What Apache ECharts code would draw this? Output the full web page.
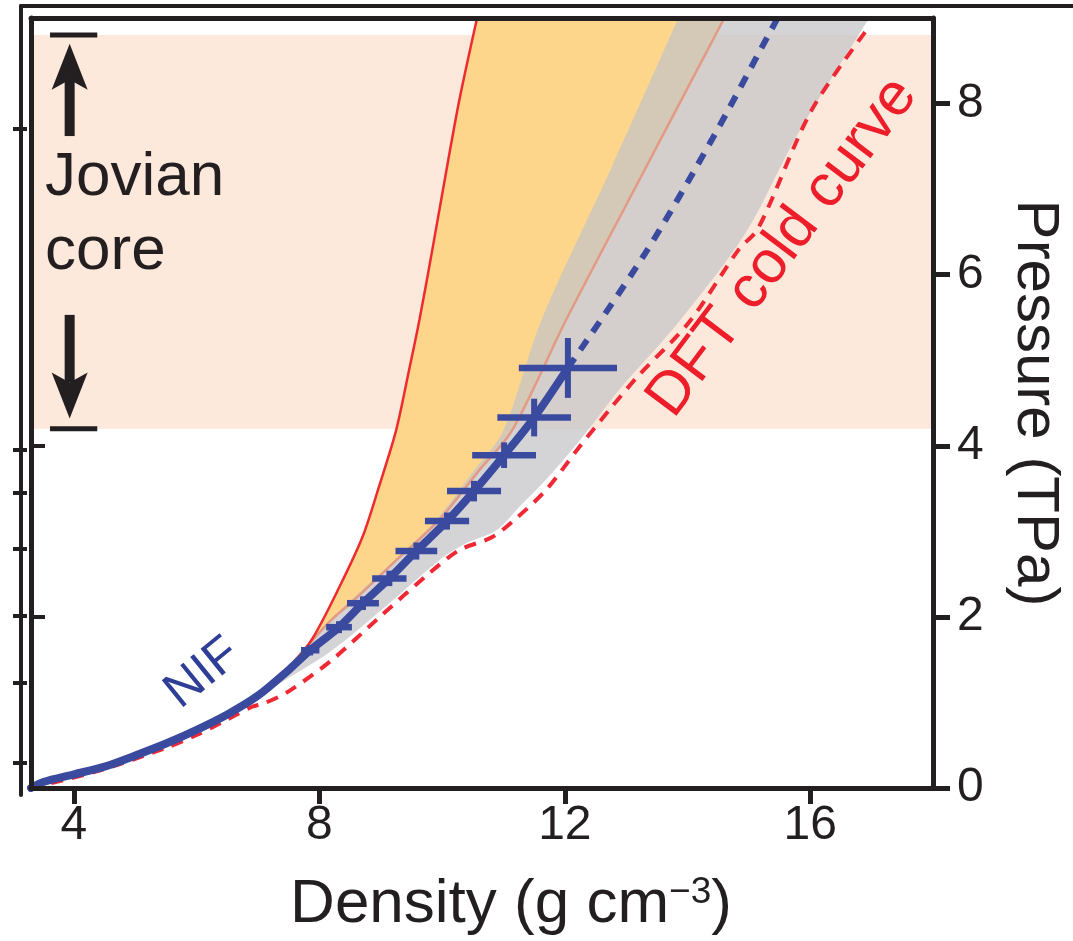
<!DOCTYPE html>
<html><head><meta charset="utf-8">
<script src="https://cdn.jsdelivr.net/npm/echarts@6/dist/echarts.min.js"></script>
<style>html,body{margin:0;padding:0;background:#fff}#c{width:1073px;height:941px}</style>
</head><body><div id="c"></div>
<script>
// ---- axis extents & ticks ----
const xMin = 3.3, xMax = 18;
const yMin = 0, yMax = 9;
const xTicks = [4, 8, 12, 16];
const yTicks = [0, 2, 4, 6, 8];
const innerLeftTicks = [2, 4];
const neighbourTicks = [0.30, 1.23, 2.02, 2.80, 3.45, 3.96, 7.71];

// ---- Jovian core pressure range (TPa) ----
const jovianCore = [4.2, 8.8];

// ---- NIF measured curve (density g/cm3, pressure TPa) ----
const nifCurve = [[3.3,0],[3.5,0.07],[4.0,0.16],[4.5,0.25],[5.0,0.38],[5.5,0.52],[6.0,0.68],[6.5,0.86],[7.0,1.08],[7.5,1.38],[7.85,1.61],[8.32,1.88],[8.71,2.16],[9.14,2.45],[9.58,2.77],[10.08,3.12],[10.52,3.47],[11.01,3.89],[11.5,4.33],[12.05,4.91]];
const nifExtrapolation = [[12.05,4.91],[13.31,6.25],[14.39,7.57],[15.4,8.91],[15.47,9.0]];

// ---- NIF data points with error bars ----
const nifDensity  = [12.05, 11.50, 11.01, 10.52, 10.08, 9.58, 9.14, 8.71, 8.32, 7.85];
const nifPressure = [4.91, 4.33, 3.89, 3.47, 3.12, 2.77, 2.45, 2.16, 1.88, 1.61];
const nifDensityErr  = [0.80, 0.60, 0.52, 0.44, 0.36, 0.34, 0.28, 0.26, 0.21, 0.15];
const nifPressureErr = [0.35, 0.22, 0.15, 0.12, 0.10, 0.10, 0.09, 0.08, 0.07, 0.06];

// ---- model curves ----
const redSolidCurve = [[3.3,0],[4.0,0.15],[5.0,0.37],[6.0,0.67],[7.0,1.07],[7.56,1.45],[7.89,1.75],[8.32,2.34],[8.70,2.93],[8.97,3.52],[9.25,4.18],[9.46,4.88],[9.63,5.47],[9.84,6.29],[10.1,7.34],[10.28,8.04],[10.57,9.0]];
const salmonCurve = [[7.56,1.46],[8.16,1.94],[8.57,2.20],[9.25,2.66],[9.95,3.13],[10.60,3.71],[11.14,4.18],[12.02,5.47],[13.04,6.87],[14.60,9.0]];
const dftColdCurve = [[3.3,0],[4.4,0.2],[5.5,0.47],[6.0,0.62],[6.5,0.8],[6.9,0.95],[7.1,0.99],[7.5,1.13],[8.21,1.5],[8.97,1.99],[9.79,2.51],[10.28,2.78],[10.81,2.93],[11.14,3.11],[11.69,3.48],[12.23,3.98],[12.76,4.45],[13.2,4.82],[14.02,5.44],[14.83,6.29],[15.15,6.54],[16.02,7.92],[16.94,8.88]];
const grayUpperEdge = [[6.37,0.77],[7.0,1.08],[7.56,1.46],[8.14,1.94],[9.22,2.66],[9.90,3.13],[10.52,3.71],[11.0,4.18],[11.62,5.47],[12.76,7.25],[13.85,9.0]];
const grayLowerEdge = [[6.37,0.77],[7.35,1.22],[8.21,1.61],[9.14,2.16],[9.95,2.66],[10.39,2.86],[10.88,3.01],[11.25,3.28],[11.79,3.68],[12.34,4.15],[12.88,4.65],[13.85,5.44],[14.94,6.48],[15.80,7.65],[16.88,8.91],[16.97,9.0]];

// ---- annotation arrows (x, from, to) ----
const jovianArrows = [[3.93, 7.62, 8.70], [3.93, 5.53, 4.32]];
const jovianBarSpan = [3.61, 4.38];

const annotations = [
  {text: 'Jovian', at: [3.53, 7.13], color: '#231f20', size: 62, rot: 0, align: 'left'},
  {text: 'core', at: [3.53, 6.27], color: '#231f20', size: 62, rot: 0, align: 'left'},
  {text: 'NIF', at: [6.1, 1.34], color: '#2e3d96', size: 50, rot: 39, align: 'center'},
  {text: 'DFT cold curve', at: [15.55, 6.32], color: '#ee1d2a', size: 60, rot: 53, align: 'center'}
];

const FONT = '"Liberation Sans", Arial, Helvetica, sans-serif';
const INK = '#231f20';
const BLUE = '#3a4a9f';
const SMOOTH = 0.3;

// Bezier path through pixel points, same control-point rule as ECharts' smoothed line
function smoothSegment(pts, smooth, move) {
  let d = move ? 'M' + pts[0][0] + ' ' + pts[0][1] : 'L' + pts[0][0] + ' ' + pts[0][1];
  const n = pts.length;
  const cpOut = [], cpIn = [];
  for (let i = 0; i < n; i++) {
    const p = pts[i];
    if (i === 0 || i === n - 1) { cpOut[i] = p; cpIn[i] = p; continue; }
    const a = pts[i - 1], b = pts[i + 1];
    const vx = b[0] - a[0], vy = b[1] - a[1];
    const l0 = Math.hypot(p[0] - a[0], p[1] - a[1]), l1 = Math.hypot(b[0] - p[0], b[1] - p[1]);
    const r = l1 / (l0 + l1 || 1);
    cpOut[i] = [p[0] + vx * smooth * r, p[1] + vy * smooth * r];
    cpIn[i] = [p[0] - vx * smooth * (1 - r), p[1] - vy * smooth * (1 - r)];
  }
  for (let i = 1; i < n; i++) {
    d += 'C' + cpOut[i - 1][0] + ' ' + cpOut[i - 1][1] + ' ' + cpIn[i][0] + ' ' + cpIn[i][1] + ' ' + pts[i][0] + ' ' + pts[i][1];
  }
  return d;
}

function bandSeries(edgeA, edgeB, fill, z) {
  return {
    type: 'custom', coordinateSystem: 'cartesian2d', xAxisIndex: 0, yAxisIndex: 0,
    z: z, silent: true, data: [[5, 1]],
    renderItem: function (params, api) {
      const a = edgeA.map(p => api.coord(p));
      const b = edgeB.slice().reverse().map(p => api.coord(p));
      const d = smoothSegment(a, SMOOTH, true) + smoothSegment(b, SMOOTH, false) + 'Z';
      return {type: 'path', shape: {pathData: d}, style: {fill: fill}};
    }
  };
}

const orangeLeftEdge = redSolidCurve.filter(p => p[1] >= salmonCurve[0][1] - 0.02);

const chart = echarts.init(document.getElementById('c'), null, {renderer: 'canvas'});

const option = {
  backgroundColor: '#ffffff',
  animation: false,
  textStyle: {fontFamily: FONT},
  grid: [
    {left: 31, right: 138, top: 18, bottom: 153, containLabel: false},
    {left: 21, right: 0, top: 6, bottom: 146, containLabel: false}
  ],
  xAxis: [
    {
      type: 'value', gridIndex: 0, min: xMin, max: xMax, position: 'bottom', z: 6,
      axisLine: {show: true, onZero: false, lineStyle: {color: INK, width: 5}},
      axisTick: {show: true, customValues: xTicks, length: 16, inside: false, lineStyle: {color: INK, width: 5}},
      axisLabel: {customValues: xTicks, fontSize: 48, color: INK, margin: 14, fontFamily: FONT},
      splitLine: {show: false},
      name: 'Density (g cm{sup|\u22123})', nameLocation: 'middle', nameGap: 86,
      nameTextStyle: {fontSize: 62, color: INK, fontFamily: FONT, padding: [0, 0, 0, 58],
        rich: {sup: {fontSize: 37, verticalAlign: 'top', fontFamily: FONT, color: INK, padding: [0, 0, 18, 0]}}}
    },
    {
      type: 'value', gridIndex: 0, min: xMin, max: xMax, position: 'top', z: 6,
      axisLine: {show: true, onZero: false, lineStyle: {color: INK, width: 5}},
      axisTick: {show: false}, axisLabel: {show: false}, splitLine: {show: false}
    },
    {
      type: 'value', gridIndex: 1, min: 0, max: 1, position: 'top', z: 6,
      axisLine: {show: true, onZero: false, lineStyle: {color: INK, width: 4}},
      axisTick: {show: false}, axisLabel: {show: false}, splitLine: {show: false}
    }
  ],
  yAxis: [
    {
      type: 'value', gridIndex: 0, min: yMin, max: yMax, position: 'right', z: 6,
      axisLine: {show: true, onZero: false, lineStyle: {color: INK, width: 5}},
      axisTick: {show: true, customValues: yTicks, length: 17, inside: false, lineStyle: {color: INK, width: 5}},
      axisLabel: {customValues: yTicks, fontSize: 48, color: INK, margin: 24, fontFamily: FONT},
      splitLine: {show: false},
      name: 'Pressure (TPa)', nameLocation: 'middle', nameRotate: -90, nameGap: 72,
      nameTextStyle: {fontSize: 60, color: INK, fontFamily: FONT}
    },
    {
      type: 'value', gridIndex: 0, min: yMin, max: yMax, position: 'left', z: 6,
      axisLine: {show: true, onZero: false, lineStyle: {color: INK, width: 5}},
      axisTick: {show: true, customValues: innerLeftTicks, length: 14, inside: true, lineStyle: {color: INK, width: 4}},
      axisLabel: {show: false}, splitLine: {show: false}
    },
    {
      type: 'value', gridIndex: 1, min: -0.08, max: 9.14, position: 'left', z: 6,
      axisLine: {show: true, onZero: false, lineStyle: {color: INK, width: 4}},
      axisTick: {show: true, customValues: neighbourTicks, length: 8, inside: false, lineStyle: {color: INK, width: 4}},
      axisLabel: {show: false}, splitLine: {show: false}
    },
    {
      type: 'value', gridIndex: 1, min: -0.08, max: 9.14, position: 'left', z: 6,
      axisLine: {show: false},
      axisTick: {show: true, customValues: neighbourTicks, length: 6, inside: true, lineStyle: {color: INK, width: 4}},
      axisLabel: {show: false}, splitLine: {show: false}
    }
  ],
  series: [
    {
      type: 'custom', coordinateSystem: 'cartesian2d', xAxisIndex: 0, yAxisIndex: 0, z: 1, silent: true,
      data: [[xMin, jovianCore[0], xMax, jovianCore[1]]],
      renderItem: function (params, api) {
        const a = api.coord([api.value(0), api.value(1)]), b = api.coord([api.value(2), api.value(3)]);
        return {type: 'rect', shape: {x: a[0], y: b[1], width: b[0] - a[0], height: a[1] - b[1]}, style: {fill: '#fde8dc'}};
      }
    },
    bandSeries(orangeLeftEdge, salmonCurve, '#fdd68c', 2),
    bandSeries(grayUpperEdge, grayLowerEdge, 'rgba(196,196,198,0.72)', 2),
    {
      type: 'line', xAxisIndex: 0, yAxisIndex: 0, data: salmonCurve, showSymbol: false, z: 3, silent: true, smooth: SMOOTH,
      lineStyle: {color: '#e39a84', width: 2.5}
    },
    {
      type: 'line', xAxisIndex: 0, yAxisIndex: 0, data: redSolidCurve, showSymbol: false, z: 3, silent: true, smooth: SMOOTH,
      lineStyle: {color: '#ee2b2f', width: 2.5}
    },
    {
      type: 'line', xAxisIndex: 0, yAxisIndex: 0, data: dftColdCurve, showSymbol: false, z: 3, silent: true, smooth: SMOOTH,
      lineStyle: {color: '#ef2833', width: 4, type: [12, 9]}
    },
    {
      type: 'line', xAxisIndex: 0, yAxisIndex: 0, data: nifExtrapolation, showSymbol: false, z: 4, silent: true, smooth: SMOOTH,
      lineStyle: {color: BLUE, width: 6, type: [12, 10]}
    },
    {
      type: 'line', xAxisIndex: 0, yAxisIndex: 0, data: nifCurve, showSymbol: false, z: 4, silent: true, smooth: SMOOTH,
      lineStyle: {color: BLUE, width: 8, cap: 'round'}
    },
    {
      type: 'custom', coordinateSystem: 'cartesian2d', xAxisIndex: 0, yAxisIndex: 0, z: 4, silent: true,
      data: nifDensity.map((d, i) => [d, nifPressure[i], nifDensityErr[i], nifPressureErr[i]]),
      renderItem: function (params, api) {
        const x = api.value(0), y = api.value(1), dx = api.value(2), dy = api.value(3);
        const a = api.coord([x - dx, y]), b = api.coord([x + dx, y]);
        const c = api.coord([x, y - dy]), d = api.coord([x, y + dy]);
        return {type: 'group', children: [
          {type: 'line', shape: {x1: a[0], y1: a[1], x2: b[0], y2: b[1]}, style: {stroke: BLUE, lineWidth: 6.5}},
          {type: 'line', shape: {x1: c[0], y1: c[1], x2: d[0], y2: d[1]}, style: {stroke: BLUE, lineWidth: 6}}
        ]};
      }
    },
    {
      type: 'custom', coordinateSystem: 'cartesian2d', xAxisIndex: 0, yAxisIndex: 0, z: 5, silent: true,
      data: jovianArrows,
      renderItem: function (params, api) {
        const x = api.value(0), y0 = api.value(1), y1 = api.value(2);
        const p0 = api.coord([x, y0]), p1 = api.coord([x, y1]);
        const dir = p1[1] < p0[1] ? -1 : 1;
        const hl = 46, hw = 18, notch = 36;
        return {type: 'group', children: [
          {type: 'line', shape: {x1: p0[0], y1: p0[1], x2: p1[0], y2: p1[1] - dir * notch}, style: {stroke: INK, lineWidth: 10}},
          {type: 'polygon', shape: {points: [[p1[0], p1[1]], [p1[0] - hw, p1[1] - dir * hl], [p1[0], p1[1] - dir * notch], [p1[0] + hw, p1[1] - dir * hl]]}, style: {fill: INK}}
        ]};
      }
    },
    {
      type: 'custom', coordinateSystem: 'cartesian2d', xAxisIndex: 0, yAxisIndex: 0, z: 5, silent: true,
      data: jovianCore.map(v => [jovianBarSpan[0], v]),
      renderItem: function (params, api) {
        const y = api.value(1);
        const a = api.coord([jovianBarSpan[0], y]), b = api.coord([jovianBarSpan[1], y]);
        return {type: 'line', shape: {x1: a[0], y1: a[1], x2: b[0], y2: b[1]}, style: {stroke: INK, lineWidth: 5}};
      }
    },
    {
      type: 'custom', coordinateSystem: 'cartesian2d', xAxisIndex: 0, yAxisIndex: 0, z: 5, silent: true,
      data: annotations.map(a => a.at),
      renderItem: function (params, api) {
        const a = annotations[params.dataIndex];
        const p = api.coord(a.at);
        return {type: 'text', x: p[0], y: p[1], rotation: a.rot * Math.PI / 180,
          style: {text: a.text, fill: a.color, fontSize: a.size, fontFamily: FONT, align: a.align, verticalAlign: 'middle'}};
      }
    }
  ]
};
chart.setOption(option);
</script>
</body></html>
